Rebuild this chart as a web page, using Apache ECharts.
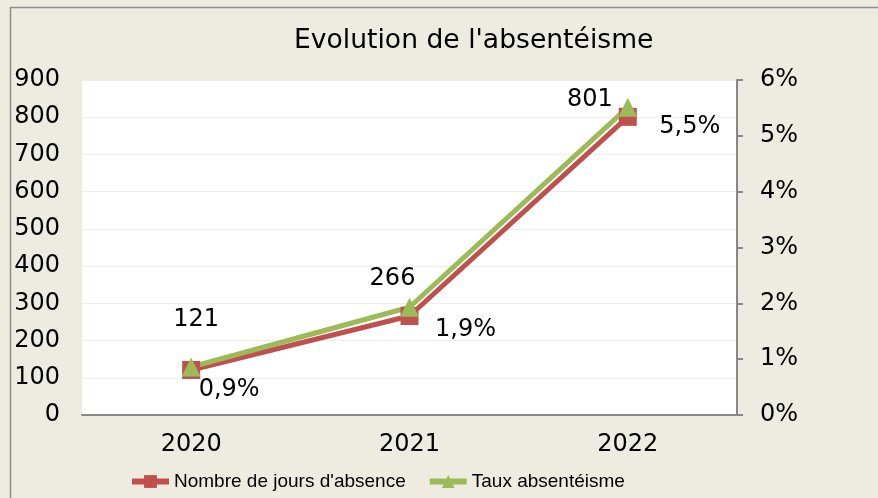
<!DOCTYPE html>
<html><head><meta charset="utf-8">
<script src="https://cdn.jsdelivr.net/npm/echarts@6/dist/echarts.min.js"></script>
<style>html,body{margin:0;padding:0;background:#EEEBE1}#c{width:878px;height:498px}</style>
</head><body><div id="c"></div>
<script>
const years = ['2020','2021','2022'];
const joursAbsence = [121, 266, 801];
const tauxAbsenteisme = [0.0086, 0.0193, 0.0551];
const tauxLabels = ['0,9%','1,9%','5,5%'];
const leftTicks = [0,100,200,300,400,500,600,700,800,900];
const rightTicks = ['0%','1%','2%','3%','4%','5%','6%'];

const redOffsets = [[5,-50],[-17,-37],[-38,-17]];
const greenOffsets = [[38,23],[56,23],[62,19]];

const chart = echarts.init(document.getElementById('c'));
const font = 'DejaVu Sans';
chart.setOption({
  backgroundColor: '#EEEBE1',
  animation: false,
  title: {text: "Evolution de l'absentéisme", left: 289, top: 23,
    textStyle: {fontFamily: font, fontWeight: 'normal', fontSize: 26.6, color: '#000'}},
  graphic: [{type:'rect', shape:{x:10.5,y:7.5,width:900,height:600}, style:{fill:'none', stroke:'#8C8C8C', lineWidth:1.5}, z:-1}],
  grid: {left: 82, right: 141, top: 80, bottom: 83, show: true, backgroundColor: '#fff', borderWidth: 0},
  legend: {left: 124, top: 467, itemWidth: 37, itemHeight: 16, itemGap: 21,
    lineStyle: {width: 6},
    textStyle: {fontFamily: 'Liberation Sans', fontSize: 19, color: '#000'}},
  xAxis: {type: 'category', data: years, boundaryGap: true,
    axisLine: {show: true, lineStyle: {color: '#888', width: 2}}, axisTick: {show: false},
    axisLabel: {fontFamily: font, fontSize: 24, color: '#000', margin: 18}},
  yAxis: [
    {type: 'value', min: 0, max: 900, interval: 100, position: 'left',
     axisLine: {show: false}, axisTick: {show: false},
     splitLine: {show: true, lineStyle: {color: '#EEEEEE', width: 1}},
     axisLabel: {fontFamily: font, fontSize: 24, color: '#000', margin: 22,
       formatter: v => String(leftTicks[Math.round(v/100)])}},
    {type: 'value', min: 0, max: 0.06, interval: 0.01, position: 'right',
     axisLine: {show: true, lineStyle: {color: '#888', width: 2}},
     axisTick: {show: true, length: 6, inside: false, lineStyle: {color: '#888', width: 2}},
     splitLine: {show: false},
     axisLabel: {fontFamily: font, fontSize: 24, color: '#000', margin: 23,
       formatter: v => rightTicks[Math.round(v*100)]}}
  ],
  series: [
    {name: "Nombre de jours d'absence", type: 'line', yAxisIndex: 0,
     symbol: 'rect', symbolSize: 18, color: '#C0504D',
     lineStyle: {width: 5, color: '#C0504D'}, itemStyle: {color: '#C0504D'},
     data: joursAbsence.map((v,i) => ({value: v, label: {show: true, position: 'inside', offset: redOffsets[i],
       formatter: String(v), fontFamily: font, fontSize: 24, color: '#000'}}))},
    {name: 'Taux absentéisme', type: 'line', yAxisIndex: 1,
     symbol: 'triangle', symbolSize: 19, color: '#9BBB59',
     lineStyle: {width: 5, color: '#9BBB59'}, itemStyle: {color: '#9BBB59'},
     data: tauxAbsenteisme.map((v,i) => ({value: v, label: {show: true, position: 'inside', offset: greenOffsets[i],
       formatter: tauxLabels[i], fontFamily: font, fontSize: 24, color: '#000'}}))}
  ]
});
</script></body></html>
